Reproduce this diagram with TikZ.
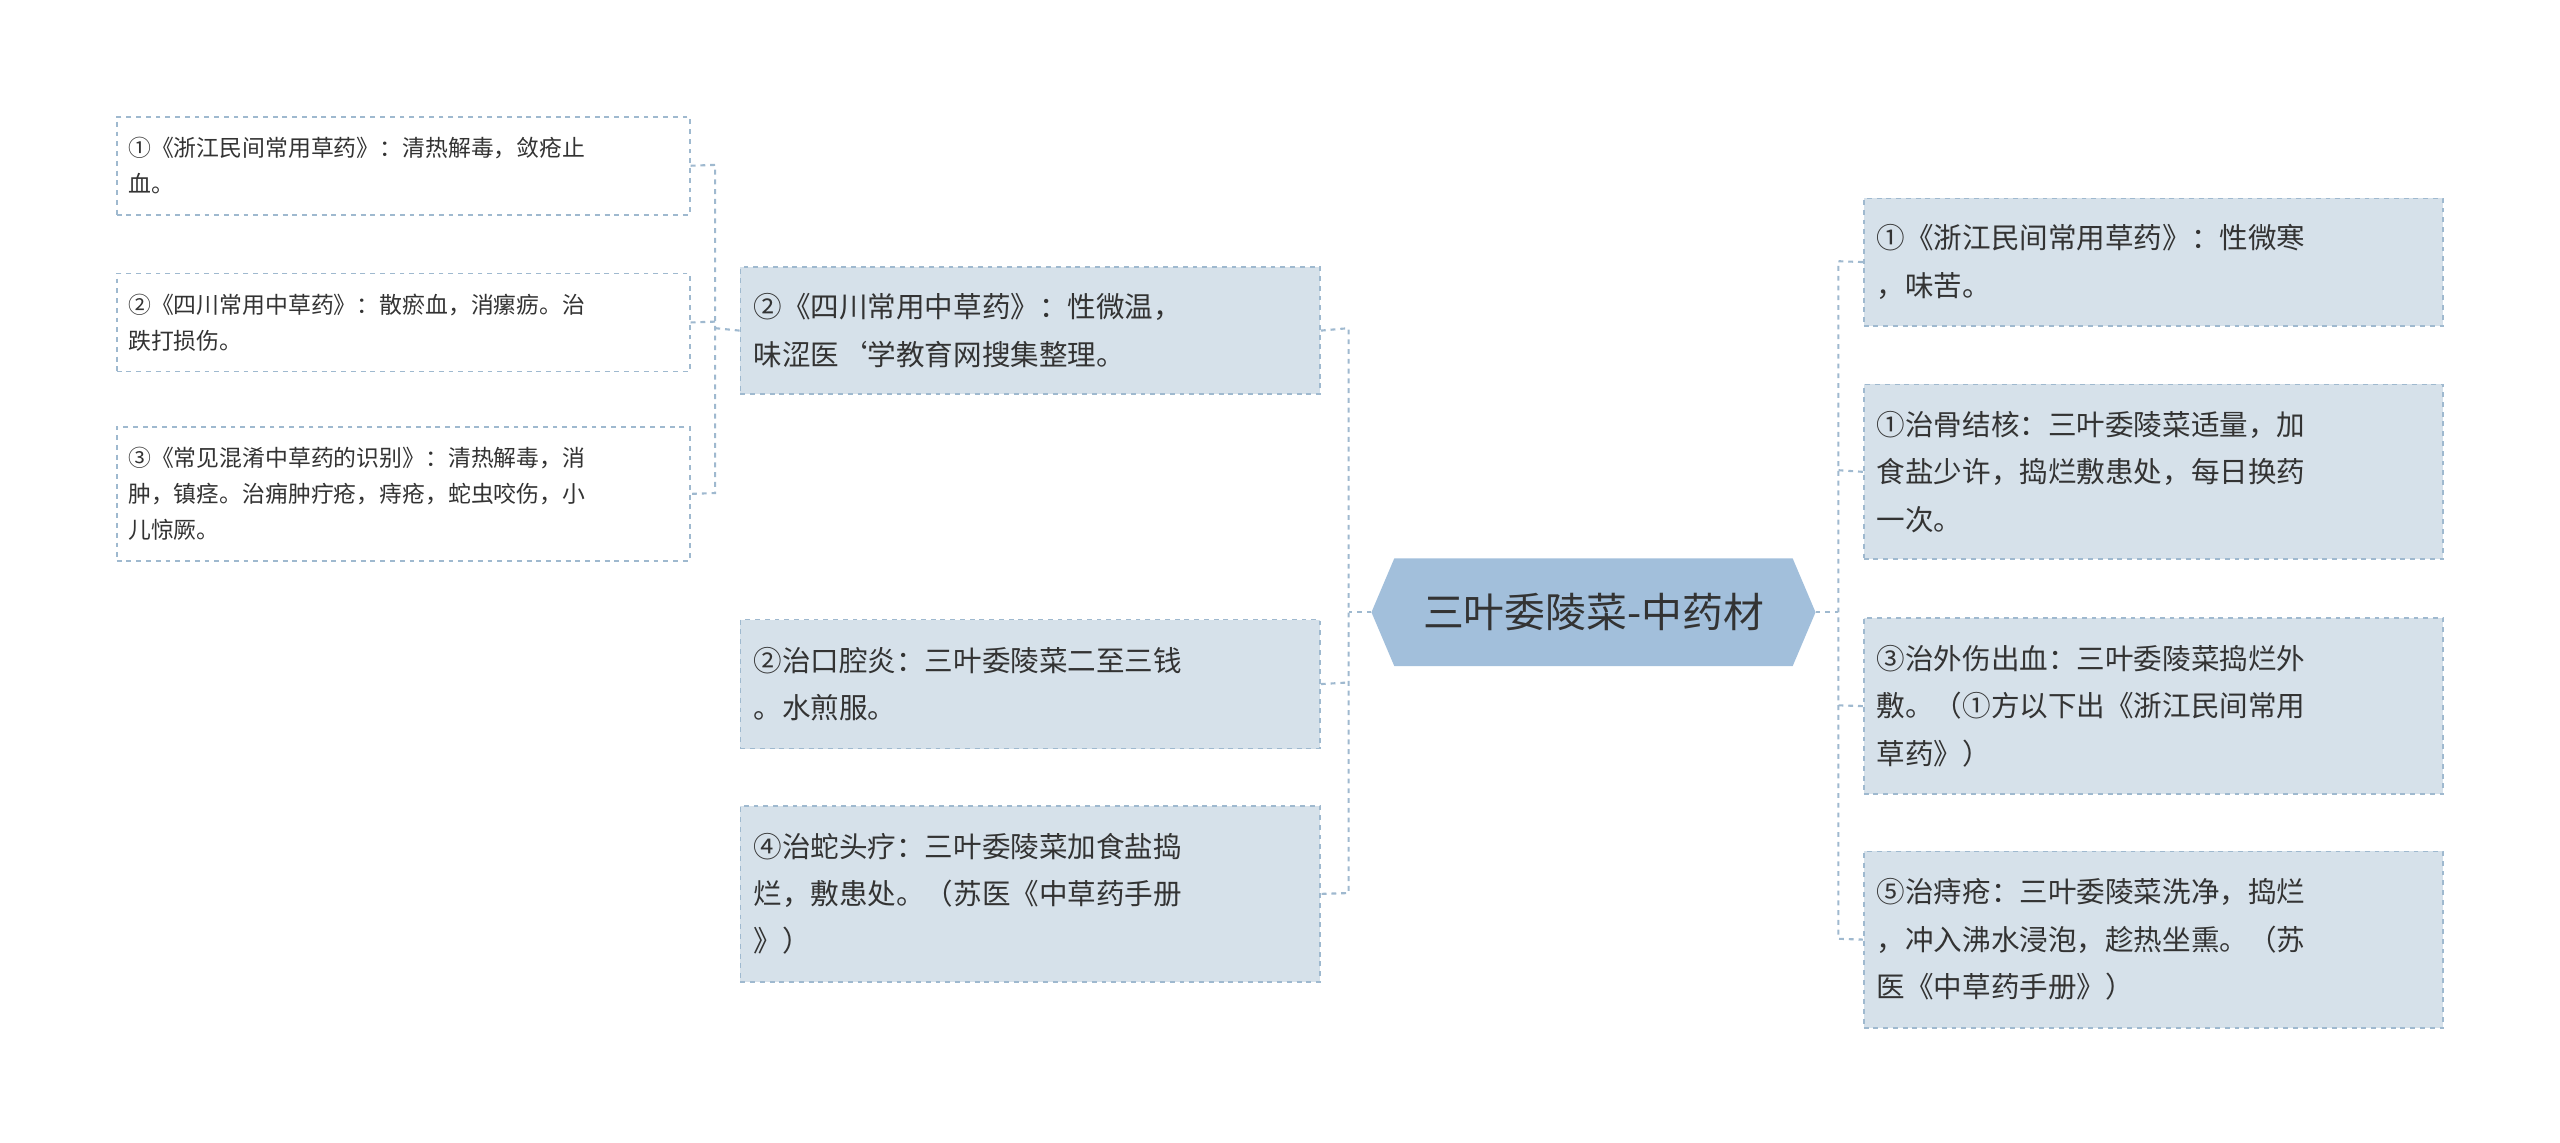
\documentclass[tikz,border=0pt]{standalone}
\usepackage{fontspec}
\setmainfont{Noto Sans CJK SC}
\definecolor{lnc}{HTML}{9FB9CF}
\definecolor{bfill}{HTML}{D6E1EA}
\definecolor{cfill}{HTML}{A2BFDB}
\definecolor{txt}{HTML}{333333}
\tikzset{
 box/.style={draw=lnc, dashed, line width=1bp, fill=bfill, minimum width=355bp, text width=339bp, align=left, inner xsep=8bp, inner ysep=0bp, font=\fontsize{17.5bp}{29bp}\selectfont, text=txt, anchor=north west},
 leaf/.style={draw=lnc, dashed, line width=1bp, fill=white, minimum width=351bp, text width=337bp, align=left, inner xsep=7bp, inner ysep=0bp, font=\fontsize{14bp}{22bp}\selectfont, text=txt, anchor=north west},
 con/.style={draw=lnc, dashed, line width=1.3bp}
}
\begin{document}
\begin{tikzpicture}[x=1bp,y=-1bp]
\useasboundingbox (0,0) rectangle (1568,700);
% center
\fill[cfill] (840,375) -- (854,342) -- (1098,342) -- (1112,375) -- (1098,408) -- (854,408) -- cycle;
\node[font=\fontsize{25bp}{30bp}\selectfont, text=txt] (c) at (976,375) {三叶委陵菜-中药材};
\coordinate (cl) at (840,375);
\coordinate (cr) at (1112,375);
% left mid
\node[box, minimum height=78bp] (l1) at (453,163) {②《四川常用中草药》：性微温，\\味涩医`学教育网搜集整理。};
\node[box, minimum height=79bp] (l2) at (453,379) {②治口腔炎：三叶委陵菜二至三钱\\。水煎服。};
\node[box, minimum height=108bp] (l3) at (453,493) {④治蛇头疗：三叶委陵菜加食盐捣\\烂，敷患处。（苏医《中草药手册\\》）};
% leaves
\node[leaf, minimum height=60bp] (a1) at (71,71) {①《浙江民间常用草药》：清热解毒，敛疮止\\血。};
\node[leaf, minimum height=60bp] (a2) at (71,167) {②《四川常用中草药》：散瘀血，消瘰疬。治\\跌打损伤。};
\node[leaf, minimum height=82bp] (a3) at (71,261) {③《常见混淆中草药的识别》：清热解毒，消\\肿，镇痉。治痈肿疔疮，痔疮，蛇虫咬伤，小\\儿惊厥。};
% right
\node[box, minimum height=78bp] (r1) at (1141,121) {①《浙江民间常用草药》：性微寒\\，味苦。};
\node[box, minimum height=107bp] (r2) at (1141,235) {①治骨结核：三叶委陵菜适量，加\\食盐少许，捣烂敷患处，每日换药\\一次。};
\node[box, minimum height=108bp] (r3) at (1141,378) {③治外伤出血：三叶委陵菜捣烂外\\敷。（①方以下出《浙江民间常用\\草药》）};
\node[box, minimum height=108bp] (r4) at (1141,521) {⑤治痔疮：三叶委陵菜洗净，捣烂\\，冲入沸水浸泡，趁热坐熏。（苏\\医《中草药手册》）};
% connectors left
\draw[con] (cl) -- (826,375);
\draw[con] (l1.east) -- (826,201) -- (826,547) -- (l3.east);
\draw[con] (l2.east) -- (826,418);
% connectors right
\draw[con] (cr) -- (1126,375);
\draw[con] (r1.west) -- (1126,160) -- (1126,575) -- (r4.west);
\draw[con] (r2.west) -- (1126,288);
\draw[con] (r3.west) -- (1126,432);
% leaf connectors
\draw[con] (l1.west) -- (438,201);
\draw[con] (a1.east) -- (438,101) -- (438,302) -- (a3.east);
\draw[con] (a2.east) -- (438,197);
\end{tikzpicture}
\end{document}
